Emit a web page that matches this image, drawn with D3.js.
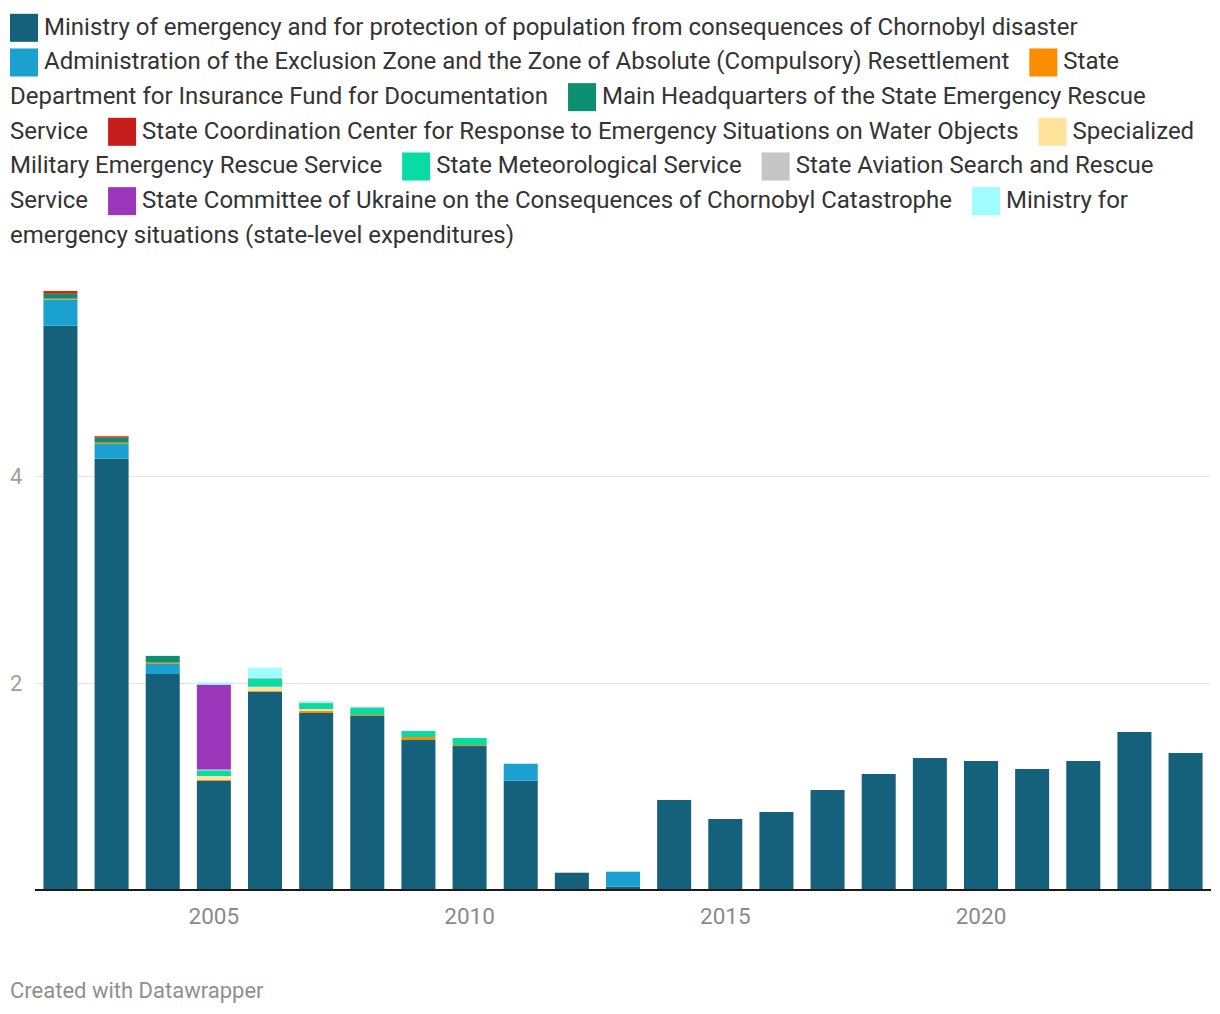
<!DOCTYPE html>
<html>
<head>
<meta charset="utf-8">
<script src="https://cdn.jsdelivr.net/npm/d3@7"></script>
<style>
  html, body { margin: 0; padding: 0; background: #fff; }
  body { width: 1220px; height: 1014px; overflow: hidden; font-family: Roboto, "Noto Sans", sans-serif; }
  svg { display: block; }
</style>
</head>
<body>
<svg id="chart" width="1220" height="1014"></svg>
<script>
const years = [2002,2003,2004,2005,2006,2007,2008,2009,2010,2011,2012,2013,2014,2015,2016,2017,2018,2019,2020,2021,2022,2023,2024];

const seriesNames = [
  "Ministry of emergency and for protection of population from consequences of Chornobyl disaster",
  "Administration of the Exclusion Zone and the Zone of Absolute (Compulsory) Resettlement",
  "State Department for Insurance Fund for Documentation",
  "Main Headquarters of the State Emergency Rescue Service",
  "State Coordination Center for Response to Emergency Situations on Water Objects",
  "Specialized Military Emergency Rescue Service",
  "State Meteorological Service",
  "State Aviation Search and Rescue Service",
  "State Committee of Ukraine on the Consequences of Chornobyl Catastrophe",
  "Ministry for emergency situations (state-level expenditures)"
];
const seriesColors = ["#15607a","#1ba1cf","#fa8c00","#0a8f70","#c71e1d","#ffe29c","#08dba3","#c5c5c5","#9b36bb","#a0fcff"];

const ministry      = [5.452,4.167,2.087,1.056,1.916,1.710,1.681,1.449,1.391,1.056,0.167,0.032,0.870,0.686,0.754,0.966,1.121,1.275,1.246,1.169,1.246,1.527,1.324];
const administration= [0.251,0.142,0.097,0,0,0,0,0,0,0.164,0,0.145,0,0,0,0,0,0,0,0,0,0,0];
const insuranceFund = [0.010,0.013,0.013,0.010,0.006,0.019,0.010,0.029,0.010,0,0,0,0,0,0,0,0,0,0,0,0,0,0];
const mainHQ        = [0.048,0.048,0.065,0,0,0,0,0,0,0,0,0,0,0,0,0,0,0,0,0,0,0,0];
const coordCenter   = [0.026,0.015,0,0,0,0,0,0,0,0,0,0,0,0,0,0,0,0,0,0,0,0,0];
const specialized   = [0.005,0.005,0,0.035,0.042,0.019,0,0,0,0,0,0,0,0,0,0,0,0,0,0,0,0,0];
const meteo         = [0,0,0,0.055,0.081,0.058,0.071,0.058,0.068,0,0,0,0,0,0,0,0,0,0,0,0,0,0];
const aviation      = [0,0,0,0.008,0.006,0.007,0.010,0,0,0,0,0,0,0,0,0,0,0,0,0,0,0,0];
const committee     = [0,0,0,0.821,0,0,0,0,0,0,0,0,0,0,0,0,0,0,0,0,0,0,0];
const stateLevel    = [0,0,0,0.020,0.097,0.013,0,0,0,0,0,0,0,0,0,0,0,0,0,0,0,0,0];

const seriesValues = [ministry,administration,insuranceFund,mainHQ,coordCenter,specialized,meteo,aviation,committee,stateLevel];
const yTicks = [2,4];
const xTicks = [2005,2010,2015,2020];

const svg = d3.select("#chart");

// ---------- Legend (flowed, wrapped text) ----------
const LEG_FONT = "24px";
const legendG = svg.append("g").attr("class", "legend")
  .style("font-family", "Roboto, sans-serif").style("font-size", LEG_FONT).attr("fill", "#333");
const measurer = legendG.append("text").attr("x", -1000).attr("y", -1000);
function textWidth(s) { measurer.text(s); return measurer.node().getComputedTextLength(); }

const leftX = 10, rightX = 1210, lineStep = 34.67, firstCenter = 26.3;
const sw = 28, swGap = 6, itemGap = 20;
let cx = leftX, line = 0;
const segments = [], swatches = [];
seriesNames.forEach((name, i) => {
  const words = name.split(" ");
  const need = sw + swGap + textWidth(words[0]);
  if (cx > leftX && cx + need > rightX) { line++; cx = leftX; }
  swatches.push({ x: cx, line, color: seriesColors[i] });
  cx += sw + swGap;
  let segX = cx, segText = words[0];
  for (let k = 1; k < words.length; k++) {
    const cand = segText + " " + words[k];
    if (segX + textWidth(cand) > rightX) {
      segments.push({ x: segX, line, text: segText });
      line++; segX = leftX; segText = words[k];
    } else {
      segText = cand;
    }
  }
  segments.push({ x: segX, line, text: segText });
  cx = segX + textWidth(segText) + itemGap;
});
measurer.remove();

legendG.selectAll("rect").data(swatches).join("rect")
  .attr("x", d => d.x).attr("y", d => firstCenter + d.line * lineStep - 12.5)
  .attr("width", sw).attr("height", sw).attr("fill", d => d.color);
legendG.selectAll("text").data(segments).join("text")
  .attr("x", d => d.x).attr("y", d => firstCenter + d.line * lineStep + 8.4)
  .text(d => d.text);

// ---------- Data table ----------
const table = years.map((yr, j) => {
  const o = { year: yr };
  seriesValues.forEach((arr, i) => { o["s" + i] = arr[j]; });
  return o;
});
const keys = seriesValues.map((_, i) => "s" + i);
const stacked = d3.stack().keys(keys)(table);

const x = d3.scaleBand().domain(years).range([35, 1211]).paddingInner(0.335).paddingOuter(0.165);
const y = d3.scaleLinear().domain([0, 4]).range([890, 476]);

// grid + y labels
const yAxis = svg.append("g").attr("transform", "translate(36,0)")
  .call(d3.axisLeft(y).tickValues(yTicks).tickSize(-1174).tickFormat(d3.format("d")));
yAxis.select(".domain").remove();
yAxis.selectAll(".tick line").attr("stroke", "#e3e3e3").attr("stroke-width", 1);
yAxis.selectAll(".tick text").attr("x", -26).attr("text-anchor", "start").attr("fill", "#a0a0a0")
  .style("font-family", "Roboto, sans-serif").style("font-size", "22px").attr("dy", "0.34em");

// bars
svg.append("g").selectAll("g").data(stacked).join("g")
  .attr("fill", (d, i) => seriesColors[i])
  .selectAll("rect").data(d => d.filter(p => p[1] - p[0] > 0)).join("rect")
  .attr("x", d => x(d.data.year))
  .attr("width", x.bandwidth())
  .attr("y", d => y(d[1]))
  .attr("height", d => y(d[0]) - y(d[1]));

// baseline
svg.append("line").attr("x1", 35).attr("x2", 1211).attr("y1", y(0)).attr("y2", y(0))
  .attr("stroke", "#1a1a1a").attr("stroke-width", 2);

// x axis
const xAxis = svg.append("g").attr("transform", `translate(0,${y(0)})`)
  .call(d3.axisBottom(x).tickValues(xTicks).tickSize(0).tickPadding(18));
xAxis.select(".domain").remove();
xAxis.selectAll(".tick text").attr("fill", "#8a8a8a")
  .style("font-family", "Roboto, sans-serif").style("font-size", "22.5px");

// footer
svg.append("text").attr("x", 10).attr("y", 998).text("Created with Datawrapper")
  .attr("fill", "#8f8f8f").style("font-family", "Roboto, sans-serif").style("font-size", "22px");
</script>
</body>
</html>
